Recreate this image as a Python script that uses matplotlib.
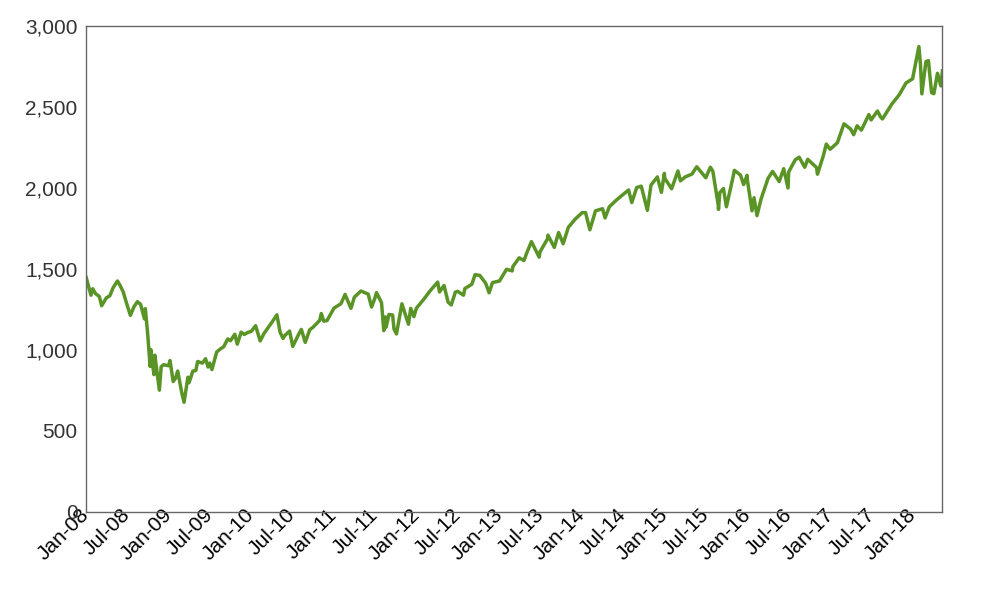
import pandas as pd
import matplotlib
matplotlib.use("Agg")
import matplotlib.pyplot as plt
import matplotlib.dates as mdates
from matplotlib.ticker import FuncFormatter

# index level (approximate turning points)
dates = [
    "2008-01-02", "2008-01-23", "2008-01-31", "2008-02-12", "2008-02-29", "2008-03-10", "2008-03-31",
    "2008-04-15", "2008-04-30", "2008-05-19", "2008-05-30", "2008-06-13", "2008-06-30", "2008-07-15",
    "2008-07-31", "2008-08-15", "2008-08-29", "2008-09-15", "2008-09-19", "2008-09-29", "2008-10-10",
    "2008-10-13", "2008-10-27", "2008-10-31", "2008-11-20", "2008-11-28", "2008-12-08", "2008-12-31",
    "2009-01-06", "2009-01-20", "2009-01-30", "2009-02-09", "2009-02-27", "2009-03-09", "2009-03-26",
    "2009-03-31", "2009-04-17", "2009-04-30", "2009-05-08", "2009-05-29", "2009-06-12", "2009-06-23",
    "2009-06-30", "2009-07-10", "2009-07-31", "2009-08-14", "2009-08-31", "2009-09-18", "2009-09-30",
    "2009-10-19", "2009-10-30", "2009-11-16", "2009-11-30", "2009-12-15", "2009-12-31",
    "2010-01-19", "2010-02-08", "2010-02-26", "2010-03-31", "2010-04-23", "2010-05-07", "2010-05-20",
    "2010-05-28", "2010-06-18", "2010-07-02", "2010-07-30", "2010-08-09", "2010-08-26", "2010-09-15",
    "2010-09-30", "2010-10-29", "2010-11-05", "2010-11-16", "2010-11-30", "2010-12-31",
    "2011-01-31", "2011-02-18", "2011-03-16", "2011-03-31", "2011-04-29", "2011-05-31", "2011-06-15",
    "2011-06-30", "2011-07-07", "2011-07-29", "2011-08-08", "2011-08-15", "2011-08-18", "2011-08-31",
    "2011-09-16", "2011-09-22", "2011-10-03", "2011-10-27", "2011-11-25", "2011-12-05", "2011-12-19",
    "2011-12-30",
    "2012-01-31", "2012-02-29", "2012-04-02", "2012-04-10", "2012-04-30", "2012-05-18", "2012-06-01",
    "2012-06-19", "2012-06-29", "2012-07-25", "2012-07-31", "2012-08-31", "2012-09-14", "2012-10-05",
    "2012-10-31", "2012-11-15", "2012-11-30", "2012-12-31",
    "2013-01-31", "2013-02-25", "2013-02-28", "2013-03-28", "2013-04-18", "2013-04-30", "2013-05-21",
    "2013-06-24", "2013-06-28", "2013-07-31", "2013-08-02", "2013-08-30", "2013-09-18", "2013-10-08",
    "2013-10-31", "2013-11-29", "2013-12-31",
    "2014-01-15", "2014-02-03", "2014-02-28", "2014-03-31", "2014-04-11", "2014-04-30", "2014-05-30",
    "2014-06-30", "2014-07-24", "2014-08-07", "2014-08-29", "2014-09-18", "2014-10-15", "2014-10-31",
    "2014-11-28", "2014-12-16", "2014-12-29", "2014-12-31",
    "2015-01-30", "2015-02-27", "2015-03-10", "2015-03-31", "2015-04-30", "2015-05-21", "2015-06-30",
    "2015-07-20", "2015-07-31", "2015-08-24", "2015-08-25", "2015-08-31", "2015-09-16", "2015-09-29",
    "2015-10-30", "2015-11-03", "2015-11-30", "2015-12-14", "2015-12-29", "2015-12-31",
    "2016-01-20", "2016-01-29", "2016-02-11", "2016-02-29", "2016-03-31", "2016-04-20", "2016-05-19",
    "2016-06-08", "2016-06-27", "2016-06-30", "2016-07-29", "2016-08-15", "2016-09-09", "2016-09-22",
    "2016-10-31", "2016-11-04", "2016-11-30", "2016-12-13", "2016-12-30",
    "2017-01-31", "2017-03-01", "2017-03-31", "2017-04-13", "2017-04-28", "2017-05-17", "2017-06-19",
    "2017-06-29", "2017-07-27", "2017-08-10", "2017-08-18", "2017-09-29", "2017-10-31", "2017-11-30",
    "2017-12-29",
    "2018-01-26", "2018-02-02", "2018-02-08", "2018-02-26", "2018-03-09", "2018-03-23", "2018-04-02",
    "2018-04-18", "2018-05-03", "2018-05-10",
]
values = [
    1447, 1338, 1378, 1348, 1330, 1273, 1322,
    1334, 1385, 1426, 1400, 1360, 1280, 1214,
    1267, 1298, 1282, 1192, 1255, 1106, 899,
    1003, 848, 968, 752, 896, 909, 903,
    935, 805, 825, 870, 735, 677, 832,
    798, 870, 873, 929, 919, 946, 895,
    919, 879, 987, 1004, 1020, 1068, 1057,
    1097, 1036, 1110, 1096, 1108, 1115,
    1150, 1056, 1104, 1169, 1217, 1110, 1071,
    1089, 1117, 1022, 1102, 1127, 1047, 1125,
    1141, 1183, 1225, 1178, 1181, 1258,
    1286, 1343, 1257, 1326, 1364, 1345, 1265,
    1321, 1354, 1292, 1119, 1204, 1140, 1219,
    1216, 1130, 1099, 1285, 1159, 1257, 1206,
    1258,
    1312, 1366, 1419, 1358, 1398, 1295, 1278,
    1357, 1362, 1338, 1379, 1406, 1465, 1460,
    1412, 1353, 1416, 1426,
    1498, 1488, 1515, 1569, 1552, 1598, 1669,
    1573, 1606, 1686, 1709, 1633, 1725, 1656,
    1757, 1806, 1848,
    1848, 1742, 1859, 1872, 1815, 1884, 1924,
    1960, 1988, 1910, 2003, 2011, 1862, 2018,
    2068, 1973, 2090, 2059,
    1995, 2105, 2044, 2068, 2086, 2131, 2063,
    2128, 2104, 1893, 1868, 1972, 1996, 1884,
    2079, 2109, 2080, 2021, 2078, 2044,
    1859, 1940, 1829, 1932, 2060, 2102, 2040,
    2119, 2000, 2099, 2174, 2190, 2128, 2177,
    2126, 2085, 2199, 2271, 2239,
    2279, 2396, 2363, 2329, 2384, 2357, 2453,
    2420, 2475, 2438, 2426, 2519, 2575, 2648,
    2674,
    2873, 2762, 2581, 2780, 2786, 2588, 2582,
    2708, 2630, 2723,
]

x = pd.to_datetime(dates)

fig = plt.figure(figsize=(10, 6), dpi=100)
ax = fig.add_axes([0.086, 0.1467, 0.856, 0.81])

ax.plot(x, values, color="#5a9426", linewidth=2.5)

ax.set_ylim(0, 3000)
ax.set_yticks(range(0, 3001, 500))
ax.yaxis.set_major_formatter(FuncFormatter(lambda v, p: f"{int(v):,}"))
ax.set_xlim(pd.Timestamp("2008-01-01"), pd.Timestamp("2018-05-08"))
ax.xaxis.set_major_locator(mdates.MonthLocator(bymonth=[1, 7]))
ax.xaxis.set_major_formatter(mdates.DateFormatter("%b-%y"))

for side in ["top", "right", "left", "bottom"]:
    ax.spines[side].set_color("#666666")
    ax.spines[side].set_linewidth(1)

ax.tick_params(axis="both", length=0)
ax.tick_params(axis="y", labelsize=15, labelcolor="#333333", pad=6)
ax.tick_params(axis="x", labelsize=15, labelcolor="black", pad=0)
for lab in ax.get_xticklabels():
    lab.set_rotation(45)
    lab.set_ha("right")
    lab.set_va("center")
    lab.set_rotation_mode("anchor")

for lab in ax.get_xticklabels() + ax.get_yticklabels():
    lab.set_family(["Liberation Sans", "DejaVu Sans"])

fig.savefig("out.png", dpi=100)
